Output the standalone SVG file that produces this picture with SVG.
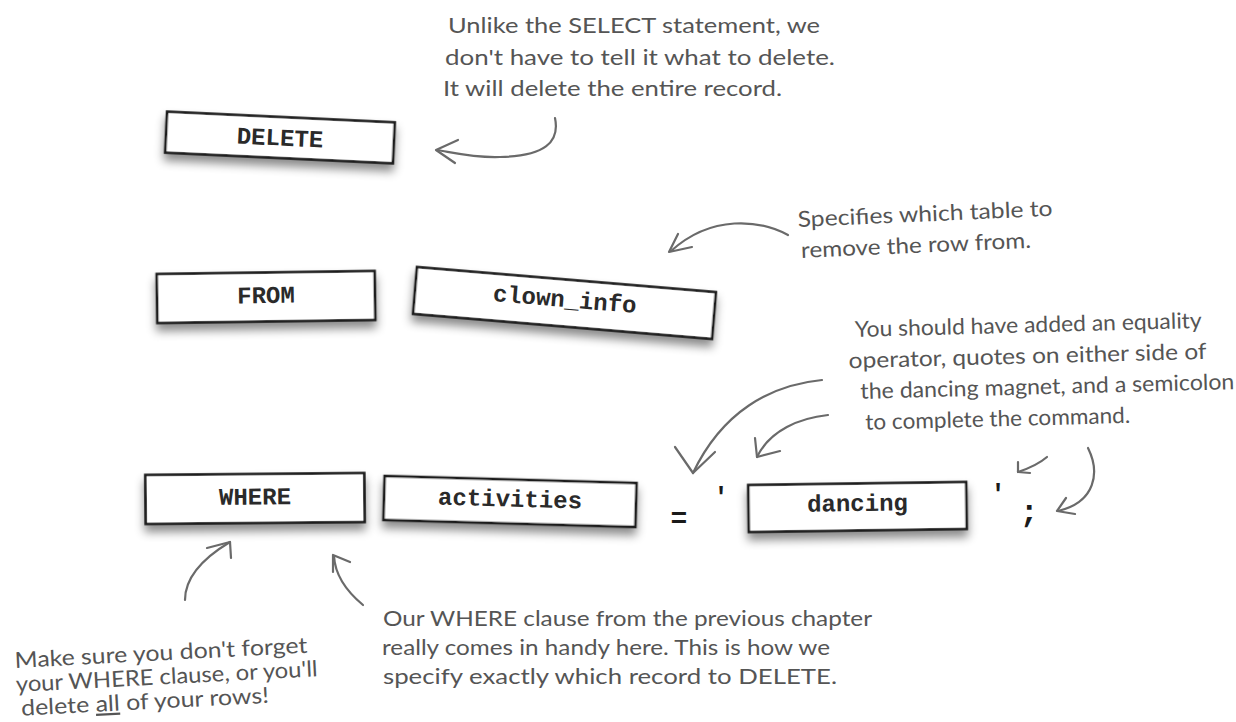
<svg xmlns="http://www.w3.org/2000/svg" width="1236" height="722" viewBox="0 0 1236 722">
<defs>
<filter id="sh" x="-15%" y="-40%" width="130%" height="200%">
<feDropShadow dx="0" dy="7" stdDeviation="5" flood-color="#000" flood-opacity="0.45"/>
</filter>
<style>
.mag{fill:#fff;stroke:#1a1a1a;stroke-width:2.6;filter:url(#sh)}
.code{font-family:"Liberation Mono",monospace;font-weight:bold;font-size:24px;fill:#2a2a2a;text-anchor:middle}
.punc{font-family:"Liberation Mono",monospace;font-weight:bold;fill:#1a1a1a;text-anchor:middle}
.note{font-family:"Lato","Noto Sans",sans-serif;font-size:22px;fill:#555}
.arr{fill:none;stroke:#6a6a6a;stroke-width:2.2;stroke-linecap:round;stroke-linejoin:round}
</style>
</defs>
<rect width="1236" height="722" fill="#fff"/>

<g id="node-delete" transform="translate(280,137.5) rotate(2.7)">
<rect class="mag" x="-114" y="-20.5" width="228" height="41"/>
<text class="code" x="0" y="8">DELETE</text>
</g>

<g id="node-from" transform="translate(266,297) rotate(-0.8)">
<rect class="mag" x="-109" y="-24.5" width="218" height="49"/>
<text class="code" x="0" y="6">FROM</text>
</g>

<g id="node-clown" transform="translate(564.5,303) rotate(4.8)">
<rect class="mag" x="-150" y="-23.5" width="300" height="47"/>
<text class="code" x="0" y="4">clown_info</text>
</g>

<g id="node-where" transform="translate(255,498.5) rotate(-0.5)">
<rect class="mag" x="-109.5" y="-24.5" width="219" height="49"/>
<text class="code" x="0" y="6">WHERE</text>
</g>

<g id="node-activities" transform="translate(510,501.5) rotate(1.6)">
<rect class="mag" x="-126" y="-22" width="252" height="44"/>
<text class="code" x="0" y="5">activities</text>
</g>

<g id="node-eq"><text class="punc" x="679" y="527" font-size="28">=</text></g>
<g id="node-q1"><text class="punc" x="721" y="505" font-size="26">'</text></g>

<g id="node-dancing" transform="translate(857.5,507) rotate(-0.8)">
<rect class="mag" x="-109" y="-23.5" width="218" height="47"/>
<text class="code" x="0" y="4">dancing</text>
</g>

<g id="node-q2"><text class="punc" x="998" y="502" font-size="26">'</text></g>
<g id="node-semi"><text class="punc" x="1029" y="522" font-size="32">;</text></g>

<g id="note-top">
<text class="note" x="448" y="33" textLength="372" lengthAdjust="spacingAndGlyphs">Unlike the SELECT statement, we</text>
<text class="note" x="445" y="65" textLength="390" lengthAdjust="spacingAndGlyphs">don't have to tell it what to delete.</text>
<text class="note" x="443" y="96" textLength="339" lengthAdjust="spacingAndGlyphs">It will delete the entire record.</text>
</g>

<g id="note-table" transform="rotate(-2.5 798 227)">
<text class="note" x="798" y="227" textLength="255" lengthAdjust="spacingAndGlyphs">Specifies which table to</text>
<text class="note" x="800" y="258" textLength="230" lengthAdjust="spacingAndGlyphs">remove the row from.</text>
</g>

<g id="note-equality" transform="rotate(-1.5 855 337)">
<text class="note" x="855" y="337" textLength="347" lengthAdjust="spacingAndGlyphs">You should have added an equality</text>
<text class="note" x="848" y="368" textLength="358" lengthAdjust="spacingAndGlyphs">operator, quotes on either side of</text>
<text class="note" x="859" y="399" textLength="374" lengthAdjust="spacingAndGlyphs">the dancing magnet, and a semicolon</text>
<text class="note" x="863" y="430" textLength="265" lengthAdjust="spacingAndGlyphs">to complete the command.</text>
</g>

<g id="note-where" transform="rotate(-3 15 668)">
<text class="note" x="15" y="668" textLength="293" lengthAdjust="spacingAndGlyphs">Make sure you don't forget</text>
<text class="note" x="15" y="692" textLength="302" lengthAdjust="spacingAndGlyphs">your WHERE clause, or you'll</text>
<text class="note" x="19" y="716" textLength="248" lengthAdjust="spacingAndGlyphs">delete <tspan text-decoration="underline">all</tspan> of your rows!</text>
</g>

<g id="note-clause">
<text class="note" x="383" y="626" textLength="489" lengthAdjust="spacingAndGlyphs">Our WHERE clause from the previous chapter</text>
<text class="note" x="382" y="655" textLength="448" lengthAdjust="spacingAndGlyphs">really comes in handy here. This is how we</text>
<text class="note" x="383" y="684" textLength="454" lengthAdjust="spacingAndGlyphs">specify exactly which record to DELETE.</text>
</g>

<g id="connectors">
<path class="arr" d="M555,118 C560,142 545,156 500,157 C475,158 455,153 437,150"/>
<path class="arr" d="M458,140 L436,150 L455,163"/>
<path class="arr" d="M788,235 C760,220 712,214 671,251"/>
<path class="arr" d="M678,234 L669,252 L692,247"/>
<path class="arr" d="M822,380 C770,385 722,412 693,473"/>
<path class="arr" d="M675,447 L693,473 L715,452"/>
<path class="arr" d="M828,415 C800,418 770,430 757,457"/>
<path class="arr" d="M755,438 L757,457 L780,451"/>
<path class="arr" d="M1047,457 C1040,463 1030,468 1018,472"/>
<path class="arr" d="M1018,462 L1018,472 L1030,473"/>
<path class="arr" d="M1088,448 C1100,472 1096,502 1058,511"/>
<path class="arr" d="M1066,498 L1057,511 L1075,514"/>
<path class="arr" d="M185,600 C185,580 200,560 230,542"/>
<path class="arr" d="M207,548 L230,542 L231,558"/>
<path class="arr" d="M363,605 C345,590 335,575 334,556"/>
<path class="arr" d="M350,562 L333,555 L333,572"/>
</g>
</svg>
